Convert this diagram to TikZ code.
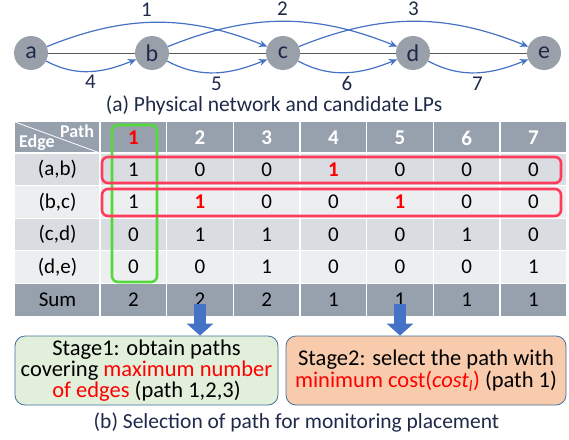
\documentclass[tikz,border=0pt]{standalone}
\usepackage{fontspec}
\setmainfont{Carlito}
\usepackage{xcolor}
\usetikzlibrary{arrows.meta}

\definecolor{navy}{HTML}{1F2A4A}
\definecolor{nodegray}{HTML}{9AA0AA}
\definecolor{hdrgray}{HTML}{97A0AD}
\definecolor{rowdark}{HTML}{D9DCE0}
\definecolor{rowlight}{HTML}{EDEEF0}
\definecolor{lpblue}{HTML}{4472C4}
\definecolor{boxred}{HTML}{FF3B5C}
\definecolor{boxgreen}{HTML}{55D93A}
\definecolor{greenfill}{HTML}{E2EFDA}
\definecolor{peachfill}{HTML}{F8CBAD}
\definecolor{boxline}{HTML}{41719C}

\newcommand{\hl}[1]{\textcolor{red}{\bfseries #1}}

\tikzset{
    vertex/.style={circle, fill=nodegray, minimum size=34pt, inner sep=0pt,
        text=navy, font=\fontsize{24}{26}\selectfont},
    lp/.style={lpblue, line width=1.2pt, -{Stealth[length=8pt,width=7pt]}},
    lplabel/.style={text=navy, font=\fontsize{21}{24}\selectfont},
    cell/.style={font=\fontsize{21}{24}\selectfont},
    stagebox/.style={draw=boxline, line width=0.8pt, rounded corners=10pt,
        minimum width=263pt, minimum height=69pt, align=center, inner sep=2pt,
        font=\fontsize{22.5}{21}\selectfont},
    bigarrow/.style={lpblue, line width=12pt, -{Triangle[width=26pt,length=12pt]}}
}

\begin{document}
\begin{tikzpicture}[x=1pt, y=1pt]
    \useasboundingbox (0,0) rectangle (569,-439);

    % (a) physical network
    \draw[black!65, line width=1pt] (31,-53) -- (544,-53);
    \node[vertex] (a) at (31,-53) {a};
    \node[vertex] (b) at (152,-53) {b};
    \node[vertex] (c) at (283,-53) {c};
    \node[vertex] (d) at (413,-53) {d};
    \node[vertex] (e) at (544,-53) {e};

    \draw[lp] (a) to[out=22, in=158] node[lplabel, above=2pt, pos=0.45] {1} (c);
    \draw[lp] (b) to[out=22, in=158] node[lplabel, above=2pt, pos=0.5] {2} (d);
    \draw[lp] (c) to[out=22, in=158] node[lplabel, above=2pt, pos=0.5] {3} (e);

    \draw[lp] (a) to[out=-28, in=-158] node[lplabel, below=0pt] {4} (b);
    \draw[lp] (b) to[out=-28, in=-158] node[lplabel, below=0pt] {5} (c);
    \draw[lp] (c) to[out=-28, in=-158] node[lplabel, below=0pt] {6} (d);
    \draw[lp] (d) to[out=-28, in=-158] node[lplabel, below=0pt] {7} (e);

    \node[text=navy, font=\fontsize{21.5}{24}\selectfont] (capa) at (274,-105)
        {(a) Physical network and candidate LPs};

    % (b) table
    \fill[hdrgray] (15,-122) rectangle (566,-153);
    \foreach \r in {1,2,3,4}{
        \pgfmathsetmacro{\ytop}{-153-(\r-1)*32.6}
        \ifodd\r
            \fill[rowdark] (15,\ytop) rectangle (566,\ytop-32.6);
        \else
            \fill[rowlight] (15,\ytop) rectangle (566,\ytop-32.6);
        \fi
    }
    \fill[hdrgray] (15,-283.4) rectangle (566,-316);

    \foreach \k in {0,...,6}{
        \draw[white, line width=1.2pt] (100+\k*66.67,-122) -- (100+\k*66.67,-316);
    }
    \foreach \r in {0,...,4}{
        \draw[white, line width=1.2pt] (15,-153-\r*32.6) -- (566,-153-\r*32.6);
    }
    \draw[white, line width=0.8pt] (15,-122) -- (100,-153);
    \node[white, font=\fontsize{18}{20}\bfseries] (pathhdr) at (77,-131) {Path};
    \node[white, font=\fontsize{18}{20}\bfseries] (edgehdr) at (37,-143) {Edge};

    \foreach \p [count=\c] in {\hl{1},2,3,4,5,6,7}{
        \node[cell, white, font=\fontsize{21}{24}\bfseries] (h\c) at (100+\c*66.67-33.33,-138) {\p};
    }

    \foreach \lab/\row [count=\r] in {(a{,}b)/{1,0,0,\hl{1},0,0,0},
                                     (b{,}c)/{1,\hl{1},0,0,\hl{1},0,0},
                                     (c{,}d)/{0,1,1,0,0,1,0},
                                     (d{,}e)/{0,0,1,0,0,0,1},
                                     Sum/{2,2,2,1,1,1,1}}{
        \node[cell] (lab\r) at (57.5,-169.3-\r*32.6+32.6) {\lab};
        \foreach \v [count=\c] in \row {
            \node[cell] (v\r\c) at (100+\c*66.67-33.33,-169.3-\r*32.6+32.6) {\v};
        }
    }

    % highlights
    \draw[boxgreen, line width=2.6pt, rounded corners=6pt] (112,-125) rectangle (157,-282);
    \draw[boxred, line width=2.6pt, rounded corners=6pt] (102,-157) rectangle (561,-183);
    \draw[boxred, line width=2.6pt, rounded corners=6pt] (102,-189) rectangle (561,-216);

    % stages
    \node[stagebox, fill=greenfill] (stageone) at (146.5,-370.5)
        {Stage1: obtain paths\\covering \textcolor{red}{maximum number}\\
         \textcolor{red}{of edges} (path 1,2,3)};
    \node[stagebox, fill=peachfill, minimum width=280pt] (stagetwo) at (426,-370.5)
        {Stage2: select the path with\\[1pt]
         \textcolor{red}{minimum cost(\textit{cost}\textsubscript{\textit{l}})} (path 1)};

    \draw[bigarrow] ([yshift=6pt]v52.south) -- (v52.south |- stageone.north);
    \draw[bigarrow] ([yshift=6pt]v55.south) -- (v55.south |- stagetwo.north);

    \node[text=navy, font=\fontsize{21.5}{24}\selectfont] (capb) at (296.5,-422)
        {(b) Selection of path for monitoring placement};
\end{tikzpicture}
\end{document}
